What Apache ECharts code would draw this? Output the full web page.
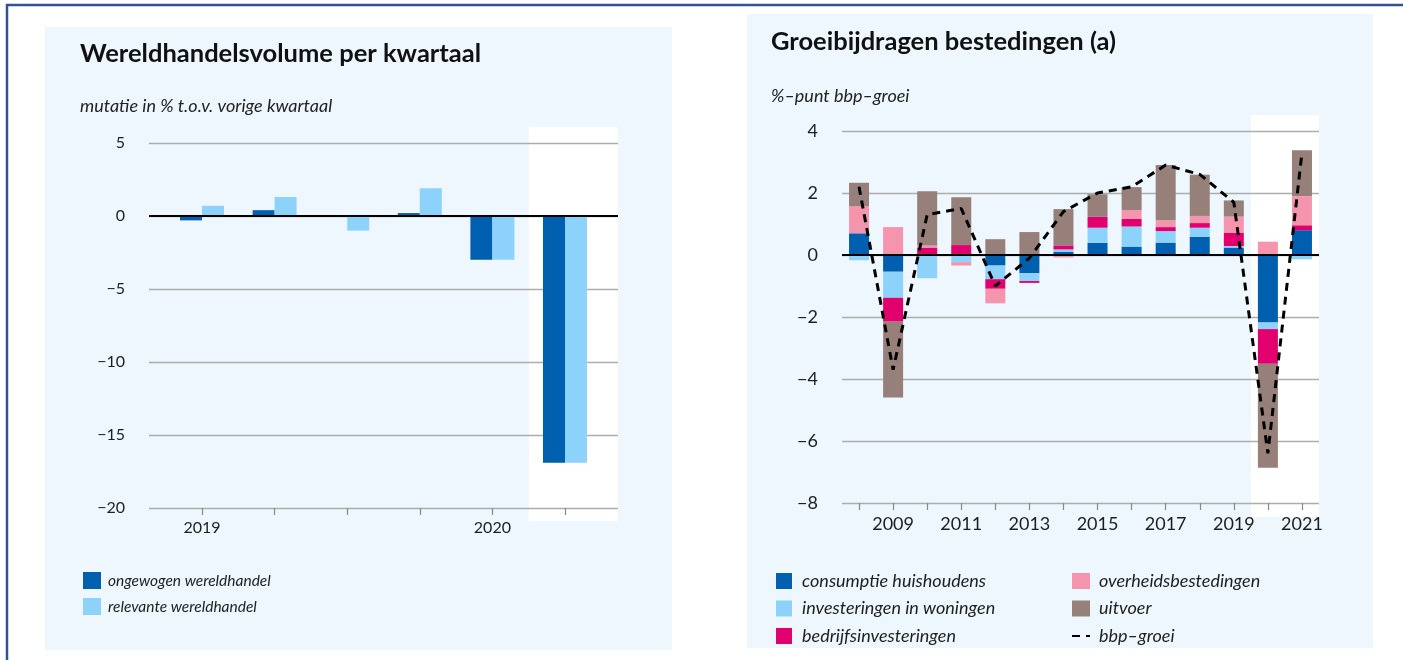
<!DOCTYPE html>
<html><head><meta charset="utf-8">
<script src="https://cdn.jsdelivr.net/npm/echarts@6/dist/echarts.min.js"></script>
<style>html,body{margin:0;padding:0;background:#fff}#c{width:1403px;height:660px}</style>
</head><body><div id="c"></div>
<script>
// ---------- Left chart: Wereldhandelsvolume per kwartaal ----------
const quarters = ['2019 K1', '2019 K2', '2019 K3', '2019 K4', '2020 K1', '2020 K2'];
const quarterTickLabels = ['2019', '', '', '', '2020', ''];
const ongewogen = [-0.3, 0.4, 0.0, 0.2, -3.0, -16.9];
const relevante = [0.7, 1.3, -1.0, 1.9, -3.0, -16.9];
const leftYMin = -20, leftYMax = 5, leftYStep = 5;

// ---------- Right chart: Groeibijdragen bestedingen ----------
const years = ['2008', '2009', '2010', '2011', '2012', '2013', '2014', '2015', '2016', '2017', '2018', '2019', '2020', '2021'];
const consumptie = [0.70, -0.54, 0.00, 0.00, -0.34, -0.59, 0.10, 0.39, 0.27, 0.40, 0.59, 0.24, -2.18, 0.80];
const woningen   = [-0.17, -0.84, -0.75, -0.23, -0.44, -0.25, 0.08, 0.49, 0.65, 0.37, 0.29, 0.05, -0.21, -0.14];
const bedrijfs   = [0.00, -0.77, 0.24, 0.32, -0.31, -0.06, 0.13, 0.35, 0.25, 0.13, 0.15, 0.42, -1.12, 0.16];
const overheid   = [0.87, 0.90, 0.07, -0.11, -0.47, 0.00, -0.08, 0.00, 0.28, 0.22, 0.23, 0.53, 0.43, 0.94];
const uitvoer    = [0.76, -2.45, 1.75, 1.54, 0.51, 0.74, 1.17, 0.73, 0.74, 1.78, 1.33, 0.52, -3.35, 1.48];
const bbpGroei   = [2.2, -3.7, 1.3, 1.5, -1.0, -0.1, 1.4, 2.0, 2.2, 2.9, 2.6, 1.7, -6.4, 3.3];
const rightYMin = -8, rightYMax = 4, rightYStep = 2;

const FONT = 'Lato, "Noto Sans", sans-serif';
const C = {
  dark: '#005fae', light: '#8dd2fb', magenta: '#e2006e', pink: '#f495ad', brown: '#968079',
  grid: '#adadad', text: '#1e1e1e', panel: '#edf7fd'
};
const minus = v => String(v).replace('-', '\u2212');

const chart = echarts.init(document.getElementById('c'), null, {renderer: 'canvas'});

const zeroLine = {
  silent: true, symbol: 'none', label: {show: false},
  lineStyle: {color: '#000', width: 2, type: 'solid'},
  data: [{yAxis: 0}]
};

const titleStyle = {fontFamily: FONT, fontWeight: 'bold', fontSize: 25.5, color: '#111'};
const subStyle = {fontFamily: FONT, fontStyle: 'italic', fontWeight: 'normal', fontSize: 18, color: '#222'};

const option = {
  animation: false,
  textStyle: {fontFamily: FONT},
  title: [
    {text: 'Wereldhandelsvolume per kwartaal', left: 75, top: 36, textStyle: titleStyle},
    {text: 'mutatie in % t.o.v. vorige kwartaal', left: 75, top: 92, textStyle: subStyle},
    {text: 'Groeibijdragen bestedingen (a)', left: 766, top: 24, textStyle: titleStyle},
    {text: '%\u2013punt bbp\u2013groei', left: 766, top: 82, textStyle: subStyle}
  ],
  legend: [
    {data: ['ongewogen wereldhandel', 'relevante wereldhandel'], left: 78, top: 567, orient: 'vertical',
     icon: 'rect', itemWidth: 18, itemHeight: 17, itemGap: 9, selectedMode: false,
     textStyle: {fontFamily: FONT, fontStyle: 'italic', fontSize: 15.5, color: C.text, padding: [0, 0, 0, 2]}},
    {data: ['consumptie huishoudens', 'investeringen in woningen', 'bedrijfsinvesteringen'], left: 771, top: 567, orient: 'vertical',
     icon: 'rect', itemWidth: 16, itemHeight: 16, itemGap: 9.5, selectedMode: false,
     textStyle: {fontFamily: FONT, fontStyle: 'italic', fontSize: 18, color: C.text, padding: [0, 0, 0, 5]}},
    {data: [{name: 'overheidsbestedingen', icon: 'rect'}, {name: 'uitvoer', icon: 'rect'},
            {name: 'bbp\u2013groei', itemStyle: {opacity: 0}}], left: 1066, top: 567, orient: 'vertical',
     itemWidth: 18, itemHeight: 16, itemGap: 9.5, selectedMode: false,
     textStyle: {fontFamily: FONT, fontStyle: 'italic', fontSize: 18, color: C.text, padding: [0, 0, 0, 4]}}
  ],
  grid: [
    {left: 149, right: 785, top: 143, bottom: 152, containLabel: false},
    {left: 842, right: 84, top: 131, bottom: 157, containLabel: false}
  ],
  xAxis: [
    {type: 'value', gridIndex: 0, min: -0.73, max: quarters.length - 1 + 0.73,
     splitLine: {show: false}, axisLine: {show: false, onZero: false},
     axisTick: {show: true, length: 7, customValues: quarters.map((q, i) => i), lineStyle: {color: '#888', width: 1.2}},
     axisLabel: {customValues: quarters.map((q, i) => i), formatter: v => quarterTickLabels[Math.round(v)] || '',
                 margin: 12, fontSize: 16, color: C.text, fontFamily: FONT}},
    {type: 'category', gridIndex: 1, data: years, boundaryGap: true,
     axisLine: {show: false, onZero: false},
     axisTick: {show: true, alignWithLabel: true, interval: 0, length: 7, lineStyle: {color: '#888', width: 1.2}},
     axisLabel: {interval: (i) => i % 2 === 1, margin: 12, fontSize: 18, color: C.text, fontFamily: FONT}}
  ],
  yAxis: [
    {type: 'value', gridIndex: 0, min: leftYMin, max: leftYMax, interval: leftYStep,
     axisLine: {show: false}, axisTick: {show: false},
     splitLine: {show: true, lineStyle: {color: C.grid, width: 1.3}},
     axisLabel: {formatter: minus, margin: 24, fontSize: 16, color: C.text, fontFamily: FONT}},
    {type: 'value', gridIndex: 1, min: rightYMin, max: rightYMax, interval: rightYStep,
     axisLine: {show: false}, axisTick: {show: false},
     splitLine: {show: true, lineStyle: {color: C.grid, width: 1.3}},
     axisLabel: {formatter: minus, margin: 24, fontSize: 18, color: C.text, fontFamily: FONT}}
  ],
  series: [
    {name: 'ongewogen wereldhandel', type: 'bar', xAxisIndex: 0, yAxisIndex: 0, barWidth: 22, barGap: '0%',
     itemStyle: {color: C.dark}, data: ongewogen.map((v, i) => [i, v])},
    {name: 'relevante wereldhandel', type: 'bar', xAxisIndex: 0, yAxisIndex: 0, barWidth: 22, barGap: '0%',
     itemStyle: {color: C.light}, data: relevante.map((v, i) => [i, v]), markLine: zeroLine},

    {name: 'consumptie huishoudens', type: 'bar', stack: 'b', xAxisIndex: 1, yAxisIndex: 1, barWidth: 20,
     itemStyle: {color: C.dark}, data: consumptie},
    {name: 'investeringen in woningen', type: 'bar', stack: 'b', xAxisIndex: 1, yAxisIndex: 1, barWidth: 20,
     itemStyle: {color: C.light}, data: woningen},
    {name: 'bedrijfsinvesteringen', type: 'bar', stack: 'b', xAxisIndex: 1, yAxisIndex: 1, barWidth: 20,
     itemStyle: {color: C.magenta}, data: bedrijfs},
    {name: 'overheidsbestedingen', type: 'bar', stack: 'b', xAxisIndex: 1, yAxisIndex: 1, barWidth: 20,
     itemStyle: {color: C.pink}, data: overheid},
    {name: 'uitvoer', type: 'bar', stack: 'b', xAxisIndex: 1, yAxisIndex: 1, barWidth: 20,
     itemStyle: {color: C.brown}, data: uitvoer, markLine: zeroLine},
    {name: 'bbp\u2013groei', type: 'line', xAxisIndex: 1, yAxisIndex: 1, symbol: 'none', z: 5,
     lineStyle: {color: '#000', width: 3, type: [8, 6], cap: 'butt'}, itemStyle: {color: '#000'}, data: bbpGroei}
  ]
};
chart.setOption(option);

// Background panels, frame and forecast (white) areas computed from the axes
const px = (axis, v) => chart.convertToPixel(axis, v);
const lx1 = px({xAxisIndex: 0}, 4.5);
const lx2 = px({xAxisIndex: 0}, quarters.length - 1 + 0.73);
const ly1 = px({yAxisIndex: 0}, leftYMax) - 16;
const ly2 = px({yAxisIndex: 0}, leftYMin) + 13;
const c12 = px({xAxisIndex: 1}, years.indexOf('2020'));
const c13 = px({xAxisIndex: 1}, years.indexOf('2021'));
const half = (c13 - c12) / 2;
const ry1 = px({yAxisIndex: 1}, rightYMax) - 16;
const ry2 = px({yAxisIndex: 1}, rightYMin) + 14;

chart.setOption({
  graphic: [
    {type: 'rect', z: -30, silent: true, shape: {x: 45, y: 27, width: 627, height: 623}, style: {fill: C.panel}},
    {type: 'rect', z: -30, silent: true, shape: {x: 747, y: 14, width: 626, height: 634}, style: {fill: C.panel}},
    {type: 'rect', z: -20, silent: true, shape: {x: lx1, y: ly1, width: lx2 - lx1, height: ly2 - ly1}, style: {fill: '#ffffff'}},
    {type: 'rect', z: -20, silent: true, shape: {x: c12 - half, y: ry1, width: c13 + half - (c12 - half), height: ry2 - ry1}, style: {fill: '#ffffff'}},
    {type: 'line', z: 50, silent: true, shape: {x1: 6, y1: 5, x2: 1403, y2: 5}, style: {stroke: '#2f5394', lineWidth: 2.5}},
    {type: 'line', z: 50, silent: true, shape: {x1: 7, y1: 4, x2: 7, y2: 660}, style: {stroke: '#2f5394', lineWidth: 2.5}}
  ]
});
</script>
</body></html>
